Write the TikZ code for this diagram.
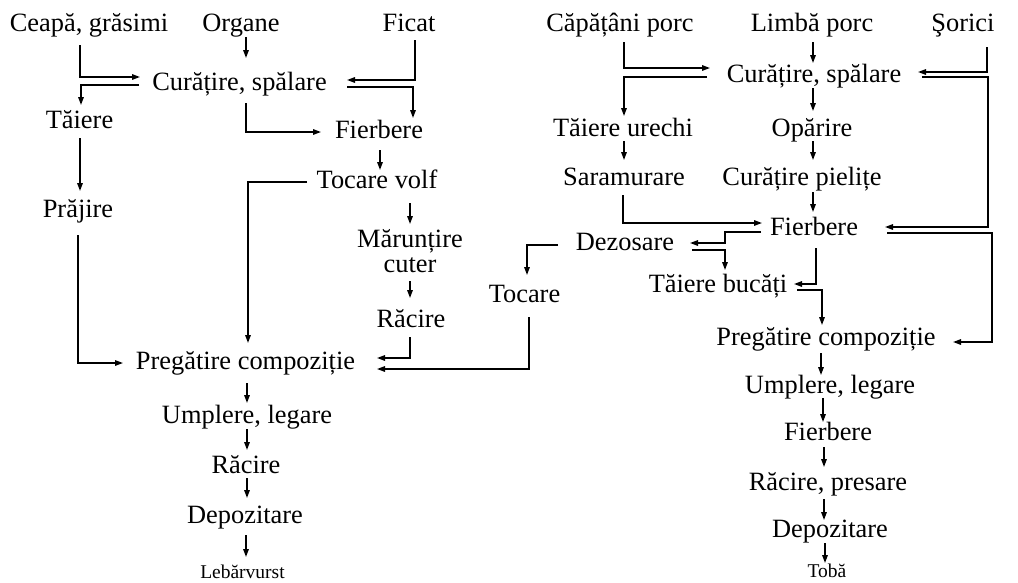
\documentclass[tikz,border=0pt]{standalone}
\usepackage{fontspec}
\setmainfont{Liberation Serif}
\usetikzlibrary{arrows.meta}
\begin{document}
\begin{tikzpicture}[x=1pt,y=-1pt,
  lbl/.style={anchor=base,inner sep=0pt,font=\fontsize{26.4}{23}\selectfont},
  endlbl/.style={anchor=base,inner sep=0pt,font=\fontsize{19.5}{22}\selectfont},
  arr/.style={line width=1.5pt,-{Triangle[length=8pt,width=5.5pt]}}]
\useasboundingbox (0,0) rectangle (1018,582);
% ---- left line: Lebarvurst ----
\node[lbl] (cea)  at (89,31)    {Ceapă, grăsimi};
\node[lbl] (org)  at (241,31)   {Organe};
\node[lbl] (fic)  at (409,31)   {Ficat};
\node[lbl] (cur1) at (239.5,90) {Curățire, spălare};
\node[lbl] (tai1) at (79.5,128) {Tăiere};
\node[lbl] (fie1) at (379,138)  {Fierbere};
\node[lbl] (toc1) at (377,188)  {Tocare volf};
\node[lbl] (pra)  at (78,217)   {Prăjire};
\node[lbl,align=center,font=\fontsize{26.4}{25}\selectfont] (mar) at (410,272) {Mărunțire\\cuter};
\node[lbl] (rac1) at (411,327)  {Răcire};
\node[lbl] (toc2) at (524.5,302){Tocare};
\node[lbl] (pre1) at (245.5,369){Pregătire compoziție};
\node[lbl] (ump1) at (247,423)  {Umplere, legare};
\node[lbl] (rac2) at (246,473)  {Răcire};
\node[lbl] (dep1) at (245,523)  {Depozitare};
\node[endlbl] (leb) at (242.5,578) {Lebărvurst};
% ---- right line: Toba ----
\node[lbl] (cap)  at (620,31)   {Căpățâni porc};
\node[lbl] (lim)  at (812,31)   {Limbă porc};
\node[lbl] (sor)  at (963,31)   {Şorici};
\node[lbl] (cur2) at (814,82)   {Curățire, spălare};
\node[lbl] (tau)  at (623,136)  {Tăiere urechi};
\node[lbl] (opa)  at (812,136)  {Opărire};
\node[lbl] (sar)  at (624,185)  {Saramurare};
\node[lbl] (cpi)  at (802,185)  {Curățire pielițe};
\node[lbl] (fie2) at (814,235)  {Fierbere};
\node[lbl] (dez)  at (625,250)  {Dezosare};
\node[lbl] (tbu)  at (718,292)  {Tăiere bucăți};
\node[lbl] (pre2) at (826,345)  {Pregătire compoziție};
\node[lbl] (ump2) at (830,393)  {Umplere, legare};
\node[lbl] (fie3) at (828,440)  {Fierbere};
\node[lbl] (rcp)  at (828,490)  {Răcire, presare};
\node[lbl] (dep2) at (830,537)  {Depozitare};
\node[endlbl] (tob) at (827,577) {Tobă};
% ---- connectors, left ----
\draw[arr] ([shift={(-9,14)}]cea.base) |- ([shift={(-99.5,-13)}]cur1.base);
\draw[arr] ([shift={(-100.5,-5)}]cur1.base) -| ([shift={(1.5,-23)}]tai1.base);
\draw[arr] ([shift={(5,6)}]org.base) -- ([shift={(6.5,-32)}]cur1.base);
\draw[arr] ([shift={(6,9)}]fic.base) |- ([shift={(107.5,-10)}]cur1.base);
\draw[arr] ([shift={(107.5,-3)}]cur1.base) -| ([shift={(34,-20)}]fie1.base);
\draw[arr] ([shift={(6.5,13)}]cur1.base) |- ([shift={(-58,-6)}]fie1.base);
\draw[arr] ([shift={(1,12)}]fie1.base) -- ([shift={(3,-18)}]toc1.base);
\draw[arr] ([shift={(0.5,10)}]tai1.base) -- ([shift={(2,-26)}]pra.base);
\draw[arr] ([shift={(-70,-6)}]toc1.base) -| ([shift={(2.5,-26)}]pre1.base);
\draw[arr] ([shift={(0,18)}]pra.base) |- ([shift={(-122.5,-6)}]pre1.base);
\draw[arr] ([shift={(33,15)}]toc1.base) -- ([shift={(0,-48)}]mar.base);
\draw[arr] ([shift={(0,9)}]mar.base) -- ([shift={(-1,-29)}]rac1.base);
\draw[arr] ([shift={(-1,10)}]rac1.base) |- ([shift={(131.5,-11)}]pre1.base);
\draw[arr] ([shift={(4.5,15)}]toc2.base) |- ([shift={(131.5,0)}]pre1.base);
\draw[arr] ([shift={(-67,-5)}]dez.base) -| ([shift={(2.5,-27)}]toc2.base);
\draw[arr] ([shift={(1.5,14)}]pre1.base) -- ([shift={(0,-20)}]ump1.base);
\draw[arr] ([shift={(0,6)}]ump1.base) -- ([shift={(1,-23)}]rac2.base);
\draw[arr] ([shift={(1,5)}]rac2.base) -- ([shift={(2,-25)}]dep1.base);
\draw[arr] ([shift={(1,12)}]dep1.base) -- ([shift={(3.5,-21)}]leb.base);
% ---- connectors, right ----
\draw[arr] ([shift={(4,11)}]cap.base) |- ([shift={(-104,-14)}]cur2.base);
\draw[arr] ([shift={(-107,-5)}]cur2.base) -| ([shift={(1,-20)}]tau.base);
\draw[arr] ([shift={(1,11)}]lim.base) -- ([shift={(-1,-19)}]cur2.base);
\draw[arr] ([shift={(-1,6)}]cur2.base) -- ([shift={(1,-25)}]opa.base);
\draw[arr] ([shift={(1,5)}]opa.base) -- ([shift={(11,-25)}]cpi.base);
\draw[arr] ([shift={(1,5)}]tau.base) -- ([shift={(0,-25)}]sar.base);
\draw[arr] ([shift={(-1,10)}]sar.base) |- ([shift={(-52,-12)}]fie2.base);
\draw[arr] ([shift={(11,7)}]cpi.base) -- ([shift={(-1,-23)}]fie2.base);
\draw[arr] ([shift={(24,16)}]sor.base) |- ([shift={(104,-10)}]cur2.base);
\draw[arr] ([shift={(108,-5)}]cur2.base) -- ++(66,0) |- ([shift={(71,-8)}]fie2.base);
\draw[arr] ([shift={(73,-2)}]fie2.base) -- ++(105,0) |- ([shift={(127,-3)}]pre2.base);
\draw[arr] ([shift={(-53,-3)}]fie2.base) -- ++(-36,0) |- ([shift={(65,-7)}]dez.base);
\draw[arr] ([shift={(67,0)}]dez.base) -| ([shift={(7,-22)}]tbu.base);
\draw[arr] ([shift={(2,13)}]fie2.base) |- ([shift={(76,-8)}]tbu.base);
\draw[arr] ([shift={(79,-2)}]tbu.base) -| ([shift={(-4,-20)}]pre2.base);
\draw[arr] ([shift={(-5,8)}]pre2.base) -- ([shift={(-9,-18)}]ump2.base);
\draw[arr] ([shift={(-7,5)}]ump2.base) -- ([shift={(-5,-18)}]fie3.base);
\draw[arr] ([shift={(-4,7)}]fie3.base) -- ([shift={(-4,-23)}]rcp.base);
\draw[arr] ([shift={(-4,9)}]rcp.base) -- ([shift={(-6,-17)}]dep2.base);
\draw[arr] ([shift={(-5,6)}]dep2.base) -- ([shift={(-2,-14)}]tob.base);
\end{tikzpicture}
\end{document}
